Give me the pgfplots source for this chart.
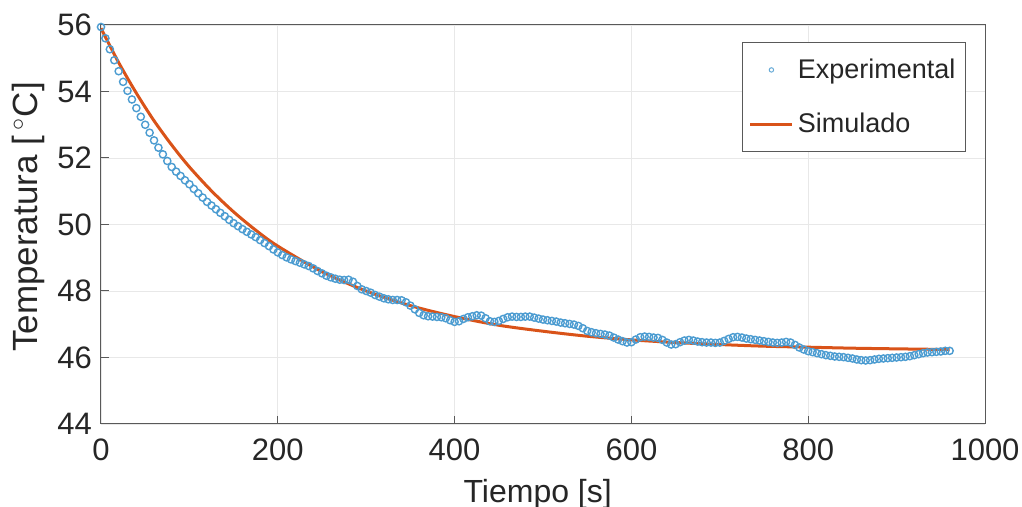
\documentclass[border=0pt]{standalone}
\usepackage{fontspec}
\setmainfont{Liberation Sans}
\usepackage{pgfplots}
\pgfplotsset{compat=1.18}
\definecolor{mblue}{RGB}{0,114,189}
\definecolor{morange}{RGB}{217,83,25}
\begin{document}
\begin{tikzpicture}
\begin{axis}[
  width=442pt, height=199.5pt, scale only axis,
  xmin=0, xmax=1000, ymin=44, ymax=56,
  xtick={0,200,...,1000}, ytick={44,46,...,56},
  grid=major, major grid style={gray!18, line width=0.4pt},
  axis line style={gray!70!black, line width=0.5pt},
  tick style={gray!70!black, line width=0.5pt},
  tick align=inside, major tick length=4pt,
  xtick pos=bottom, ytick pos=left,
  tick label style={font=\fontsize{15.5}{18}\selectfont, text=black!85},
  /pgf/number format/assume math mode=true,
  /pgf/number format/1000 sep={},
  xlabel={Tiempo [s]}, ylabel={Temperatura [\,$^\circ$C]},
  xlabel style={font=\fontsize{16}{19}\selectfont, text=black!85, at={(axis description cs:0.494,-0.175)}, anchor=center},
  ylabel style={font=\fontsize{17.5}{20}\selectfont, text=black!85, at={(axis description cs:-0.0826,0.519)}, anchor=center},
  xticklabel style={yshift=-4pt},
  yticklabel style={xshift=-1pt},
  legend style={at={(axis description cs:0.9785,0.957)}, anchor=north east,
    draw=gray!70!black, line width=0.5pt, font=\fontsize{13.5}{16}\selectfont,
    inner xsep=3pt, inner ysep=6pt, row sep=12pt, cells={anchor=west, text=black!85}},
  legend cell align=left,
  legend image code/.code={\draw[#1] (0cm,0cm) -- (21pt,0cm);},
]
\addplot[only marks, mark=o, mark size=1.8pt, mblue!70, mark options={line width=0.7pt},
  legend image code/.code={\draw[mblue!60, line width=0.5pt] (10.5pt,0) circle (1.1pt);}] coordinates {
(0,55.94)(5,55.60)(10,55.27)(15,54.94)(20,54.61)(25,54.29)(30,54.02)(35,53.76)(40,53.50)(45,53.24)
(50,53.00)(55,52.76)(60,52.53)(65,52.31)(70,52.11)(75,51.91)(80,51.73)(85,51.59)(90,51.46)(95,51.33)
(100,51.21)(105,51.07)(110,50.94)(115,50.81)(120,50.68)(125,50.57)(130,50.46)(135,50.35)(140,50.25)(145,50.14)
(150,50.04)(155,49.95)(160,49.86)(165,49.78)(170,49.70)(175,49.62)(180,49.53)(185,49.44)(190,49.35)(195,49.25)
(200,49.16)(205,49.08)(210,49.01)(215,48.95)(220,48.90)(225,48.85)(230,48.80)(235,48.75)(240,48.68)(245,48.60)
(250,48.53)(255,48.46)(260,48.41)(265,48.37)(270,48.34)(275,48.33)(280,48.34)(285,48.28)(290,48.15)(295,48.05)
(300,48.00)(305,47.95)(310,47.88)(315,47.83)(320,47.78)(325,47.75)(330,47.73)(335,47.73)(340,47.72)(345,47.66)
(350,47.56)(355,47.45)(360,47.34)(365,47.27)(370,47.24)(375,47.23)(380,47.22)(385,47.21)(390,47.18)(395,47.12)
(400,47.07)(405,47.09)(410,47.16)(415,47.21)(420,47.24)(425,47.27)(430,47.26)(435,47.18)(440,47.09)(445,47.07)
(450,47.10)(455,47.16)(460,47.21)(465,47.23)(470,47.22)(475,47.22)(480,47.23)(485,47.23)(490,47.20)(495,47.17)
(500,47.14)(505,47.12)(510,47.10)(515,47.08)(520,47.05)(525,47.03)(530,47.01)(535,46.99)(540,46.95)(545,46.88)
(550,46.80)(555,46.76)(560,46.73)(565,46.71)(570,46.69)(575,46.66)(580,46.60)(585,46.54)(590,46.49)(595,46.45)
(600,46.46)(605,46.54)(610,46.61)(615,46.63)(620,46.62)(625,46.60)(630,46.59)(635,46.53)(640,46.45)(645,46.39)
(650,46.40)(655,46.46)(660,46.51)(665,46.53)(670,46.51)(675,46.48)(680,46.46)(685,46.45)(690,46.45)(695,46.44)
(700,46.45)(705,46.50)(710,46.56)(715,46.61)(720,46.62)(725,46.60)(730,46.57)(735,46.55)(740,46.53)(745,46.51)
(750,46.49)(755,46.47)(760,46.45)(765,46.44)(770,46.45)(775,46.47)(780,46.45)(785,46.38)(790,46.30)(795,46.24)
(800,46.19)(805,46.16)(810,46.13)(815,46.10)(820,46.07)(825,46.05)(830,46.03)(835,46.02)(840,46.01)(845,45.99)
(850,45.97)(855,45.94)(860,45.92)(865,45.91)(870,45.92)(875,45.94)(880,45.96)(885,45.97)(890,45.98)(895,45.99)
(900,46.00)(905,46.01)(910,46.02)(915,46.04)(920,46.07)(925,46.10)(930,46.13)(935,46.15)(940,46.16)(945,46.17)
(950,46.18)(955,46.20)(960,46.20)
};
\addlegendentry{Experimental}
\addplot[morange, line width=1.5pt, smooth] coordinates {
(0,55.90)(20,54.87)(40,53.95)(60,53.12)(80,52.39)(100,51.73)(125,51.01)(150,50.38)(175,49.83)(200,49.35)
(250,48.58)(300,48.00)(350,47.56)(400,47.23)(450,46.97)(500,46.79)(550,46.64)(600,46.53)(650,46.45)
(700,46.39)(750,46.34)(800,46.31)(850,46.28)(900,46.26)(960,46.24)
};
\addlegendentry{Simulado}
\end{axis}
\pgfresetboundingbox
\path (current axis.south west) ++(-50.5pt,-41.5pt) coordinate (bl);
\path (current axis.north east) ++(18.5pt,12.5pt) coordinate (tr);
\path[use as bounding box] (bl) rectangle (tr);
\end{tikzpicture}
\end{document}
